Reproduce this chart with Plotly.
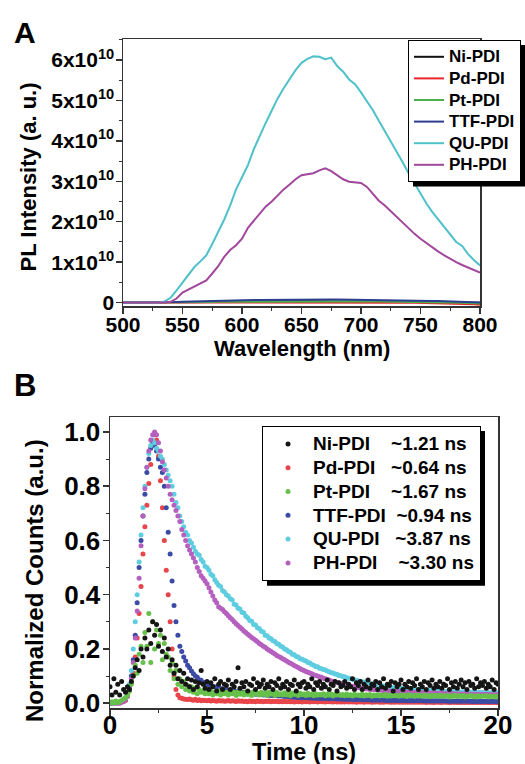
import plotly.graph_objects as go

# ---------------- Panel A data (PL spectra, intensity in units of 1e10) ----------------
wavelength = list(range(500, 801, 5))

ni_pl = [0, 0, 0, 0, 0, 0, 0,
         0.002, 0.005, 0.008, 0.01, 0.012, 0.014, 0.016, 0.018, 0.02, 0.022,
         0.024, 0.025, 0.026, 0.027, 0.028, 0.029, 0.03, 0.031, 0.032,
         0.033, 0.034, 0.034, 0.035, 0.035, 0.035, 0.035, 0.035, 0.035, 0.034, 0.034,
         0.033, 0.033, 0.032, 0.031, 0.03, 0.029, 0.028, 0.027, 0.026,
         0.024, 0.023, 0.021, 0.02, 0.018, 0.016, 0.014, 0.012, 0.01, 0.008,
         0.006, 0.004, 0.002, 0.0, -0.002]
pd_pl = [0, 0, 0, 0, 0, 0, 0,
         0.001, 0.002, 0.004, 0.005, 0.006, 0.007, 0.008, 0.009, 0.01, 0.011,
         0.012, 0.012, 0.013, 0.013, 0.014, 0.014, 0.015, 0.015, 0.015,
         0.016, 0.016, 0.016, 0.016, 0.016, 0.016, 0.016, 0.016, 0.015, 0.015, 0.015,
         0.014, 0.014, 0.013, 0.012, 0.011, 0.01, 0.009, 0.007, 0.005,
         0.003, 0.001, -0.001, -0.003, -0.005, -0.008, -0.011, -0.014, -0.017, -0.02,
         -0.024, -0.028, -0.033, -0.04, -0.05]
pt_pl = [0, 0, 0, 0, 0, 0, 0,
         0.001, 0.003, 0.005, 0.007, 0.009, 0.011, 0.013, 0.015, 0.017, 0.019,
         0.02, 0.021, 0.022, 0.023, 0.024, 0.025, 0.026, 0.027, 0.028,
         0.029, 0.03, 0.03, 0.031, 0.031, 0.032, 0.032, 0.032, 0.032, 0.032, 0.031,
         0.031, 0.03, 0.03, 0.029, 0.028, 0.027, 0.026, 0.025, 0.023,
         0.022, 0.02, 0.018, 0.016, 0.014, 0.012, 0.01, 0.007, 0.004, 0.001,
         -0.002, -0.006, -0.01, -0.015, -0.02]
ttf_pl = [0, 0, 0, 0, 0, 0, 0,
          0.005, 0.01, 0.015, 0.02, 0.025, 0.03, 0.035, 0.04, 0.045, 0.05,
          0.052, 0.055, 0.058, 0.06, 0.062, 0.064, 0.066, 0.068, 0.07,
          0.071, 0.072, 0.073, 0.074, 0.074, 0.075, 0.075, 0.075, 0.075, 0.075, 0.075,
          0.074, 0.074, 0.073, 0.072, 0.071, 0.07, 0.068, 0.066, 0.064,
          0.062, 0.059, 0.056, 0.053, 0.05, 0.046, 0.042, 0.038, 0.034, 0.03,
          0.025, 0.02, 0.015, 0.01, 0.005]
qu_pl = [0, 0, 0, 0, 0, 0, 0,
         0.03, 0.12, 0.3, 0.5, 0.7, 0.88, 1.02, 1.17, 1.45, 1.75,
         2.05, 2.4, 2.8, 3.1, 3.4, 3.8, 4.14, 4.45, 4.75,
         5.05, 5.3, 5.52, 5.75, 5.93, 6.03, 6.09, 6.08, 6.02, 6.06, 5.85,
         5.71, 5.52, 5.4, 5.2, 4.98, 4.76, 4.5, 4.25, 3.98,
         3.72, 3.47, 3.2, 2.94, 2.68, 2.45, 2.24, 2.05, 1.86, 1.67,
         1.5, 1.4, 1.2, 1.05, 0.92]
ph_pl = [0, 0, 0, 0, 0, 0, 0, 0, 0.02,
         0.1, 0.25, 0.33, 0.4, 0.47, 0.55, 0.72, 0.9,
         1.13, 1.3, 1.42, 1.58, 1.85, 2.03, 2.2, 2.38, 2.5,
         2.66, 2.8, 2.92, 3.05, 3.15, 3.18, 3.2, 3.27, 3.32, 3.25, 3.15,
         3.05, 2.99, 2.98, 2.96, 2.86, 2.68, 2.52, 2.4, 2.26,
         2.1, 1.96, 1.84, 1.7, 1.58, 1.47, 1.36, 1.26, 1.17, 1.08,
         1.0, 0.93, 0.86, 0.8, 0.74]

pl_names = ["Ni-PDI", "Pd-PDI", "Pt-PDI", "TTF-PDI", "QU-PDI", "PH-PDI"]
pl_series = [ni_pl, pd_pl, pt_pl, ttf_pl, qu_pl, ph_pl]
pl_colors = ["#111111", "#e8262b", "#4cae4c", "#2c3e8f", "#4fc1c9", "#a1479c"]

wl_ticks = [500, 550, 600, 650, 700, 750, 800]
pl_ticks = [0, 1, 2, 3, 4, 5, 6]          # in units of 1e10

# ---------------- Panel B data (normalized decay counts, t = 0..20 ns every 0.1 ns) ----------------
time_ns = [round(i * 0.1, 1) for i in range(201)]

ni_decay = [
    0.06, 0.03, 0.09, 0.04, 0.07, 0.03, 0.08, 0.05, 0.04, 0.06,
    0.05, 0.08, 0.10, 0.13, 0.16, 0.12, 0.20, 0.17, 0.24, 0.20,
    0.27, 0.22, 0.30, 0.25, 0.29, 0.21, 0.27, 0.19, 0.24, 0.17,
    0.20, 0.14, 0.16, 0.11, 0.14, 0.09, 0.12, 0.08, 0.11, 0.07,
    0.09, 0.06, 0.085, 0.05, 0.08, 0.06, 0.075, 0.12, 0.07, 0.055,
    0.08, 0.05, 0.075, 0.06, 0.09, 0.045, 0.07, 0.08, 0.05, 0.07,
    0.065, 0.085, 0.05, 0.07, 0.06, 0.08, 0.13, 0.055, 0.075, 0.06,
    0.08, 0.045, 0.07, 0.065, 0.09, 0.05, 0.075, 0.06, 0.07, 0.085,
    0.055, 0.07, 0.06, 0.08, 0.05, 0.075, 0.065, 0.09, 0.055, 0.07,
    0.06, 0.08, 0.05, 0.07, 0.065, 0.085, 0.045, 0.07, 0.06, 0.075,
    0.08, 0.055, 0.07, 0.06, 0.09, 0.05, 0.075, 0.065, 0.08, 0.055,
    0.07, 0.06, 0.085, 0.05, 0.07, 0.065, 0.08, 0.045, 0.075, 0.06,
    0.065, 0.08, 0.055, 0.07, 0.06, 0.09, 0.05, 0.075, 0.065, 0.08,
    0.05, 0.07, 0.06, 0.085, 0.055, 0.07, 0.065, 0.08, 0.05, 0.075,
    0.06, 0.09, 0.055, 0.07, 0.065, 0.08, 0.045, 0.075, 0.06, 0.07,
    0.085, 0.05, 0.07, 0.06, 0.08, 0.055, 0.075, 0.065, 0.09, 0.05,
    0.07, 0.06, 0.08, 0.05, 0.075, 0.065, 0.085, 0.055, 0.07, 0.06,
    0.08, 0.055, 0.07, 0.065, 0.09, 0.05, 0.075, 0.06, 0.08, 0.055,
    0.07, 0.085, 0.06, 0.075, 0.05, 0.08, 0.065, 0.07, 0.055, 0.09,
    0.06, 0.075, 0.065, 0.08, 0.055, 0.07, 0.06, 0.085, 0.05, 0.075,
    0.07]
pd_decay = [
    0.0, 0.0, 0.002, 0.0, 0.003, 0.0, 0.004, 0.006, 0.01, 0.025,
    0.045, 0.075, 0.11, 0.17, 0.24, 0.33, 0.43, 0.55, 0.65, 0.73,
    0.81, 0.88, 0.95, 0.99, 0.97, 0.91, 0.82, 0.72, 0.60, 0.49,
    0.40, 0.30, 0.20, 0.10, 0.05, 0.03, 0.02, 0.018, 0.015, 0.014,
    0.013, 0.015, 0.012, 0.011, 0.014, 0.01, 0.012, 0.009, 0.011, 0.01,
    0.009, 0.011, 0.008, 0.01, 0.009, 0.007, 0.01, 0.008, 0.009, 0.007,
    0.008, 0.01, 0.007, 0.009, 0.008, 0.006, 0.009, 0.007, 0.008, 0.006,
    0.007, 0.005, 0.008, 0.006, 0.007, 0.005, 0.008, 0.006, 0.007, 0.005,
    0.007, 0.006, 0.008, 0.005, 0.007, 0.006, 0.007, 0.005, 0.006, 0.005,
    0.007, 0.005, 0.006, 0.005, 0.007, 0.004, 0.006, 0.005, 0.006, 0.004,
    0.006, 0.005, 0.007, 0.004, 0.006, 0.005, 0.006, 0.004, 0.006, 0.005,
    0.005, 0.004, 0.006, 0.005, 0.005, 0.004, 0.006, 0.004, 0.005, 0.004,
    0.005, 0.004, 0.006, 0.004, 0.005, 0.004, 0.005, 0.003, 0.005, 0.004,
    0.005, 0.003, 0.005, 0.004, 0.005, 0.003, 0.004, 0.004, 0.005, 0.003,
    0.004, 0.003, 0.005, 0.004, 0.004, 0.003, 0.004, 0.003, 0.005, 0.003,
    0.004, 0.003, 0.004, 0.003, 0.004, 0.003, 0.004, 0.003, 0.004, 0.003,
    0.004, 0.003, 0.004, 0.002, 0.004, 0.003, 0.003, 0.002, 0.004, 0.003,
    0.003, 0.002, 0.004, 0.003, 0.003, 0.002, 0.003, 0.003, 0.003, 0.002,
    0.003, 0.002, 0.003, 0.002, 0.003, 0.002, 0.003, 0.002, 0.003, 0.002,
    0.003, 0.002, 0.003, 0.002, 0.003, 0.002, 0.002, 0.002, 0.003, 0.002,
    0.002]
pt_decay = [
    0.0, 0.005, 0.0, 0.008, 0.002, 0.006, 0.01, 0.015, 0.02, 0.03,
    0.045, 0.07, 0.10, 0.14, 0.11, 0.18, 0.21, 0.15, 0.26, 0.21,
    0.33, 0.15, 0.30, 0.20, 0.27, 0.22, 0.25, 0.16, 0.22, 0.18,
    0.17, 0.12, 0.15, 0.09, 0.12, 0.07, 0.09, 0.06, 0.08, 0.05,
    0.065, 0.045, 0.06, 0.04, 0.055, 0.035, 0.05, 0.04, 0.045, 0.035,
    0.05, 0.035, 0.045, 0.03, 0.04, 0.035, 0.045, 0.03, 0.04, 0.035,
    0.04, 0.03, 0.045, 0.035, 0.04, 0.028, 0.042, 0.033, 0.038, 0.03,
    0.04, 0.032, 0.038, 0.028, 0.042, 0.034, 0.036, 0.03, 0.04, 0.032,
    0.037, 0.029, 0.04, 0.033, 0.036, 0.028, 0.039, 0.031, 0.035, 0.03,
    0.038, 0.03, 0.034, 0.027, 0.037, 0.032, 0.035, 0.028, 0.036, 0.031,
    0.034, 0.028, 0.036, 0.03, 0.033, 0.027, 0.035, 0.029, 0.032, 0.03,
    0.035, 0.027, 0.033, 0.029, 0.034, 0.026, 0.032, 0.03, 0.033, 0.028,
    0.032, 0.027, 0.034, 0.028, 0.031, 0.026, 0.033, 0.029, 0.03, 0.027,
    0.033, 0.026, 0.031, 0.028, 0.032, 0.025, 0.03, 0.027, 0.031, 0.026,
    0.03, 0.027, 0.032, 0.025, 0.029, 0.026, 0.031, 0.027, 0.028, 0.025,
    0.03, 0.026, 0.029, 0.024, 0.031, 0.027, 0.028, 0.025, 0.03, 0.026,
    0.028, 0.025, 0.03, 0.026, 0.027, 0.024, 0.029, 0.026, 0.028, 0.025,
    0.029, 0.024, 0.027, 0.026, 0.028, 0.023, 0.027, 0.025, 0.029, 0.024,
    0.027, 0.025, 0.028, 0.023, 0.026, 0.025, 0.028, 0.024, 0.026, 0.023,
    0.027, 0.024, 0.026, 0.025, 0.027, 0.023, 0.026, 0.024, 0.025, 0.023,
    0.025]
ttf_decay = [
    0.0, 0.0, 0.0, 0.002, 0.0, 0.002, 0.005, 0.01, 0.02, 0.035,
    0.06, 0.10, 0.16, 0.25, 0.37, 0.50, 0.60, 0.69, 0.77, 0.85,
    0.90, 0.94, 0.96, 0.95, 0.93, 0.90, 0.87, 0.85, 0.80, 0.72,
    0.63, 0.55, 0.45, 0.36, 0.30, 0.25, 0.21, 0.19, 0.17, 0.155,
    0.14, 0.13, 0.118, 0.108, 0.10, 0.095, 0.086, 0.084, 0.076, 0.075,
    0.07, 0.066, 0.066, 0.061, 0.06, 0.057, 0.057, 0.053, 0.053, 0.05,
    0.05, 0.047, 0.048, 0.044, 0.045, 0.042, 0.043, 0.04, 0.041, 0.038,
    0.038, 0.036, 0.037, 0.035, 0.035, 0.033, 0.034, 0.032, 0.032, 0.03,
    0.031, 0.029, 0.03, 0.028, 0.029, 0.027, 0.028, 0.026, 0.027, 0.025,
    0.025, 0.024, 0.025, 0.023, 0.024, 0.022, 0.023, 0.021, 0.022, 0.02,
    0.021, 0.02, 0.021, 0.019, 0.02, 0.018, 0.019, 0.018, 0.019, 0.017,
    0.018, 0.017, 0.018, 0.016, 0.017, 0.016, 0.017, 0.015, 0.016, 0.015,
    0.015, 0.014, 0.015, 0.014, 0.015, 0.013, 0.014, 0.013, 0.014, 0.013,
    0.013, 0.012, 0.013, 0.012, 0.013, 0.011, 0.012, 0.011, 0.012, 0.011,
    0.012, 0.011, 0.011, 0.01, 0.011, 0.01, 0.011, 0.01, 0.011, 0.01,
    0.01, 0.01, 0.011, 0.009, 0.01, 0.009, 0.01, 0.009, 0.01, 0.009,
    0.01, 0.009, 0.009, 0.008, 0.009, 0.008, 0.009, 0.008, 0.009, 0.008,
    0.009, 0.008, 0.009, 0.008, 0.008, 0.007, 0.008, 0.007, 0.008, 0.007,
    0.008, 0.007, 0.008, 0.007, 0.008, 0.007, 0.007, 0.006, 0.007, 0.006,
    0.007, 0.006, 0.007, 0.006, 0.007, 0.006, 0.007, 0.006, 0.006, 0.006,
    0.006]
qu_decay = [
    0.0, 0.0, 0.0, 0.0, 0.002, 0.003, 0.005, 0.01, 0.02, 0.04,
    0.07, 0.12, 0.20, 0.30, 0.40, 0.52, 0.62, 0.72, 0.80, 0.87,
    0.92, 0.95, 0.97, 0.96, 0.94, 0.93, 0.91, 0.90, 0.88, 0.86,
    0.84, 0.82, 0.80, 0.77, 0.74, 0.72, 0.69, 0.67, 0.65, 0.63,
    0.62, 0.60, 0.59, 0.575, 0.56, 0.55, 0.545, 0.53, 0.52, 0.505,
    0.50, 0.49, 0.475, 0.47, 0.455, 0.445, 0.435, 0.43, 0.415, 0.41,
    0.40, 0.395, 0.385, 0.38, 0.365, 0.362, 0.35, 0.347, 0.335, 0.332,
    0.32, 0.315, 0.305, 0.302, 0.29, 0.288, 0.278, 0.274, 0.265, 0.262,
    0.25, 0.248, 0.24, 0.237, 0.23, 0.227, 0.22, 0.217, 0.21, 0.207,
    0.20, 0.197, 0.19, 0.188, 0.18, 0.178, 0.172, 0.17, 0.164, 0.162,
    0.158, 0.155, 0.15, 0.148, 0.142, 0.14, 0.135, 0.134, 0.129, 0.127,
    0.124, 0.122, 0.118, 0.116, 0.112, 0.111, 0.107, 0.106, 0.102, 0.101,
    0.098, 0.097, 0.094, 0.092, 0.09, 0.088, 0.085, 0.084, 0.082, 0.081,
    0.078, 0.078, 0.075, 0.074, 0.072, 0.071, 0.069, 0.069, 0.066, 0.066,
    0.064, 0.063, 0.062, 0.061, 0.059, 0.059, 0.057, 0.057, 0.056, 0.055,
    0.054, 0.054, 0.053, 0.052, 0.051, 0.051, 0.05, 0.05, 0.049, 0.049,
    0.048, 0.048, 0.047, 0.047, 0.047, 0.046, 0.046, 0.045, 0.045, 0.045,
    0.044, 0.044, 0.044, 0.043, 0.043, 0.043, 0.042, 0.042, 0.042, 0.042,
    0.041, 0.041, 0.041, 0.041, 0.04, 0.04, 0.04, 0.04, 0.04, 0.039,
    0.039, 0.039, 0.039, 0.039, 0.038, 0.038, 0.038, 0.038, 0.038, 0.038,
    0.037]
ph_decay = [
    0.0, 0.0, 0.0, 0.0, 0.0, 0.0, 0.003, 0.006, 0.012, 0.025,
    0.05, 0.09, 0.15, 0.24, 0.34, 0.46, 0.58, 0.69, 0.79, 0.87,
    0.93, 0.97, 0.99, 1.00, 0.99, 0.96, 0.93, 0.89, 0.86, 0.83,
    0.80, 0.77, 0.75, 0.73, 0.71, 0.69, 0.67, 0.64, 0.62, 0.60,
    0.58, 0.565, 0.55, 0.535, 0.52, 0.50, 0.485, 0.47, 0.46, 0.45,
    0.44, 0.425, 0.41, 0.395, 0.38, 0.37, 0.355, 0.35, 0.345, 0.337,
    0.33, 0.322, 0.315, 0.308, 0.30, 0.293, 0.286, 0.28, 0.273, 0.266,
    0.26, 0.254, 0.248, 0.242, 0.237, 0.232, 0.226, 0.22, 0.215, 0.21,
    0.206, 0.20, 0.195, 0.19, 0.186, 0.181, 0.176, 0.172, 0.168, 0.164,
    0.16, 0.155, 0.151, 0.147, 0.143, 0.139, 0.135, 0.131, 0.127, 0.123,
    0.12, 0.117, 0.114, 0.111, 0.108, 0.105, 0.102, 0.10, 0.097, 0.095,
    0.092, 0.09, 0.087, 0.085, 0.082, 0.08, 0.078, 0.076, 0.074, 0.072,
    0.07, 0.068, 0.066, 0.065, 0.063, 0.062, 0.06, 0.059, 0.058, 0.057,
    0.055, 0.054, 0.053, 0.052, 0.051, 0.05, 0.05, 0.049, 0.048, 0.048,
    0.047, 0.046, 0.046, 0.045, 0.045, 0.044, 0.044, 0.043, 0.043, 0.042,
    0.042, 0.041, 0.041, 0.041, 0.04, 0.04, 0.04, 0.039, 0.039, 0.039,
    0.038, 0.038, 0.038, 0.038, 0.037, 0.037, 0.037, 0.037, 0.036, 0.036,
    0.036, 0.036, 0.036, 0.035, 0.035, 0.035, 0.035, 0.035, 0.034, 0.034,
    0.034, 0.034, 0.034, 0.034, 0.033, 0.033, 0.033, 0.033, 0.033, 0.033,
    0.033, 0.032, 0.032, 0.032, 0.032, 0.032, 0.032, 0.031, 0.031, 0.031,
    0.031]

decay_names = ["Ni-PDI", "Pd-PDI", "Pt-PDI", "TTF-PDI", "QU-PDI", "PH-PDI"]
decay_lifetimes = ["~1.21 ns", "~0.64 ns", "~1.67 ns", "~0.94 ns", "~3.87 ns", "~3.30 ns"]
decay_gaps = [4, 3, 4, 2, 3, 4]       # spaces between name and lifetime in the legend
decay_series = [ni_decay, pd_decay, pt_decay, ttf_decay, qu_decay, ph_decay]
decay_colors = ["#151515", "#e8444a", "#66c04a", "#3b4ba5", "#5fcde0", "#b55fbf"]
# drawing order (bottom -> top); legend keeps the Ni..PH order via legendrank
draw_order = [1, 3, 4, 5, 2, 0]

time_ticks = [0, 5, 10, 15, 20]
count_ticks = [0.0, 0.2, 0.4, 0.6, 0.8, 1.0]

for s in pl_series:
    assert len(s) == len(wavelength), len(s)
for s in decay_series:
    assert len(s) == len(time_ns), len(s)

FONT = "Liberation Sans, Arial, sans-serif"
W, H = 525, 764

# legend geometry: Plotly row height = 1.3*font.size + 3, so the legend font size sets the
# row pitch, while a span sets the glyph size actually drawn
LEG_A_ROW, LEG_A_TXT = 21.6, 17
LEG_B_ROW, LEG_B_TXT = 23.8, 19


def big(s, size):
    return f'<span style="font-size:{size}px"><b>{s}</b></span>'


fig = go.Figure()

for i, (name, vals, col) in enumerate(zip(pl_names, pl_series, pl_colors)):
    fig.add_trace(go.Scatter(
        x=wavelength, y=[v * 1e10 for v in vals], mode="lines", name=big(name, LEG_A_TXT),
        line=dict(color=col, width=2), xaxis="x", yaxis="y",
        legend="legend", legendrank=i + 1))

for i in draw_order:
    label = decay_names[i] + "\u00a0" * decay_gaps[i] + decay_lifetimes[i]
    fig.add_trace(go.Scatter(
        x=time_ns, y=decay_series[i], mode="markers", name=big(label, LEG_B_TXT),
        marker=dict(color=decay_colors[i], size=5, line=dict(width=0)),
        xaxis="x2", yaxis="y2", legend="legend2", legendrank=i + 1))


def px_x(px):
    return px / W


def px_y(py):
    return 1 - py / H


def bold(s):
    return f"<b>{s}</b>"


axis_common = dict(showline=True, mirror=True, linecolor="#333333", linewidth=1.5,
                   ticks="outside", tickwidth=1.5, tickcolor="#333333", ticklen=6,
                   showgrid=False, zeroline=False, automargin=False, tickmode="array")
minor_common = dict(ticks="outside", ticklen=3, tickcolor="#333333", tickwidth=1)

legA_top = 40
legB_top = 426
legA_h = 6 * LEG_A_ROW + 12
legB_h = 6 * LEG_B_ROW + 12
legA_left, legA_w = 408, 112
legB_left, legB_w = 262, 218

fig.update_layout(
    template="none",
    width=W, height=H, margin=dict(l=0, r=0, t=0, b=0, autoexpand=False),
    paper_bgcolor="white", plot_bgcolor="white",
    font=dict(family=FONT, color="black", weight="bold"),
    xaxis=dict(domain=[px_x(123), px_x(480)], range=[500, 800], anchor="y",
               tickvals=wl_ticks, ticktext=[bold(v) for v in wl_ticks],
               minor=dict(tickvals=[v + 25 for v in wl_ticks[:-1]], **minor_common),
               tickfont=dict(size=21, family=FONT), ticklabelstandoff=-7, **axis_common),
    yaxis=dict(domain=[px_y(306), px_y(39)], range=[-0.084e10, 6.52e10], anchor="x",
               tickvals=[v * 1e10 for v in pl_ticks],
               ticktext=[bold("0")] + [bold(f"{v}x10<sup>10</sup>") for v in pl_ticks[1:]],
               minor=dict(tickvals=[(v + 0.5) * 1e10 for v in pl_ticks], **minor_common),
               tickfont=dict(size=21, family=FONT), ticklabelstandoff=-3, **axis_common),
    xaxis2=dict(domain=[px_x(110), px_x(498)], range=[0, 20], anchor="y2",
                tickvals=time_ticks, ticktext=[bold(v) for v in time_ticks],
                minor=dict(tickvals=[v + 2.5 for v in time_ticks[:-1]], **minor_common),
                tickfont=dict(size=26, family=FONT), ticklabelstandoff=-13, **axis_common),
    yaxis2=dict(domain=[px_y(708), px_y(417)], range=[-0.018, 1.055], anchor="x2",
                tickvals=count_ticks, ticktext=[bold(f"{v:.1f}") for v in count_ticks],
                minor=dict(tickvals=[round(v + 0.1, 1) for v in count_ticks[:-1]], **minor_common),
                tickfont=dict(size=26, family=FONT), ticklabelstandoff=-3, **axis_common),
    legend=dict(x=px_x(legA_left), y=px_y(legA_top), xanchor="left", yanchor="top",
                bgcolor="white", bordercolor="black", borderwidth=1,
                font=dict(size=(LEG_A_ROW - 3) / 1.3, family=FONT), tracegroupgap=0,
                itemclick=False, itemdoubleclick=False),
    legend2=dict(x=px_x(legB_left), y=px_y(legB_top), xanchor="left", yanchor="top",
                 bgcolor="white", bordercolor="black", borderwidth=1, itemwidth=40,
                 font=dict(size=(LEG_B_ROW - 3) / 1.3, family=FONT), tracegroupgap=0,
                 itemclick=False, itemdoubleclick=False),
    showlegend=True,
)

# legend drop shadows (drawn beneath the legend boxes, offset down-right)
SH = 5
fig.add_shape(type="rect", xref="paper", yref="paper",
              x0=px_x(legA_left + SH), x1=px_x(legA_left + legA_w + SH),
              y0=px_y(legA_top + legA_h + SH), y1=px_y(legA_top + SH),
              fillcolor="black", line=dict(width=0), layer="above")
fig.add_shape(type="rect", xref="paper", yref="paper",
              x0=px_x(legB_left + SH), x1=px_x(legB_left + legB_w + SH),
              y0=px_y(legB_top + legB_h + SH), y1=px_y(legB_top + SH),
              fillcolor="black", line=dict(width=0), layer="above")

ann = [
    dict(text="A", x=px_x(24.5), y=px_y(32), size=30, angle=0),
    dict(text="B", x=px_x(25), y=px_y(386), size=31, angle=0),
    dict(text="Wavelength (nm)", x=px_x(301.5), y=px_y(348), size=22, angle=0),
    dict(text="PL Intensity (a. u.)", x=px_x(27.5), y=px_y(177), size=22, angle=-90),
    dict(text="Time (ns)", x=px_x(304), y=px_y(752), size=23.5, angle=0),
    dict(text="Normalized Counts (a.u.)", x=px_x(34), y=px_y(581), size=24, angle=-90),
]
for a in ann:
    fig.add_annotation(text=bold(a["text"]), x=a["x"], y=a["y"], xref="paper", yref="paper",
                       xanchor="center", yanchor="middle", showarrow=False,
                       textangle=a["angle"], borderpad=0,
                       font=dict(family=FONT, size=a["size"], color="black"))

fig.write_html("out.html", config={"displayModeBar": False, "staticPlot": True},
               post_script="document.body.style.margin='0';document.body.style.padding='0';")
